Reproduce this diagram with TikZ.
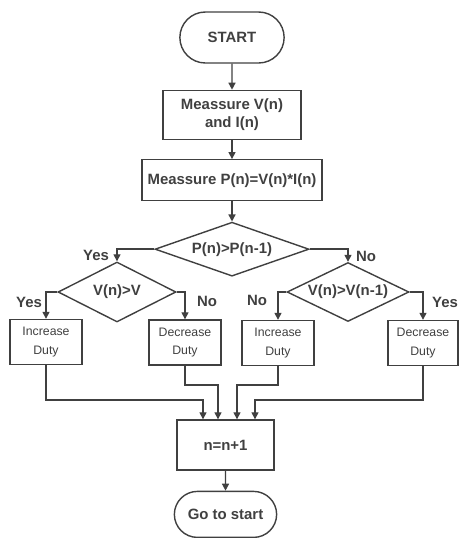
\documentclass[tikz,border=0pt]{standalone}
\usepackage{fontspec}
\setmainfont{Liberation Sans}
\usetikzlibrary{arrows.meta,positioning,shapes.geometric,shapes.misc}
\newcommand{\labf}{\fontsize{8.5}{10.5}\selectfont\bfseries}
\newcommand{\dutyf}{\fontsize{7}{10.5}\selectfont}
\tikzset{
  term/.style={draw,rounded rectangle,minimum width=2.32cm,minimum height=1.02cm,font=\labf},
  box/.style={draw,align=center,inner sep=2pt,font=\labf},
  duty/.style={draw,align=center,minimum width=1.44cm,minimum height=0.9cm,inner sep=1pt,font=\dutyf},
  dec/.style={draw,diamond,inner sep=0pt,font=\labf},
  lbl/.style={font=\labf,inner sep=1pt},
  arr/.style={-{Triangle[length=4pt,width=4pt]}}
}

\begin{document}
\begin{tikzpicture}[x=0.02cm,y=-0.02cm,line width=0.8pt,color=black!75]
\useasboundingbox (0,0) rectangle (459,538);
% main column
\node[term] (start) at (232,37.5) {START};
\node[box,minimum width=2.76cm,minimum height=0.98cm,below=0.52cm of start] (meas) {Meassure V(n)\\and I(n)};
\node[box,minimum width=3.6cm,minimum height=0.82cm,below=0.38cm of meas] (pow) {Meassure P(n)=V(n)*I(n)};
\node[dec,aspect=2.8,minimum width=3.08cm,minimum height=1.08cm,below=0.4cm of pow] (cmp) {P(n)>P(n-1)};
% branches
\node[dec,aspect=2,minimum width=2.36cm,minimum height=1.2cm] (vl) at (117,292) {V(n)>V};
\node[dec,aspect=2,minimum width=2.44cm,minimum height=1.18cm] (vr) at (348,292) {V(n)>V(n-1)};
\node[duty] (inc1) at (46,342) {Increase\\Duty};
\node[duty] (dec1) at (185,342.5) {Decrease\\Duty};
\node[duty] (inc2) at (278,343) {Increase\\Duty};
\node[duty,minimum width=1.4cm] (dec2) at (423,343) {Decrease\\Duty};
\node[box,minimum width=1.94cm,minimum height=1cm] (incn) at (225.5,445) {n=n+1};
\node[term,minimum width=2.28cm,minimum height=0.92cm,below=0.4cm of incn] (goto) {Go to start};
% labels
\node[lbl] at (96,255) {Yes};
\node[lbl] at (366,256) {No};
\node[lbl] at (29,302) {Yes};
\node[lbl] at (207,301) {No};
\node[lbl] at (257,300) {No};
\node[lbl] at (445,302) {Yes};
% merge points
\coordinate (m1) at (203,400);
\coordinate (m2) at (218,385);
\coordinate (m3) at (237,385);
\coordinate (m4) at (255,400);
\draw[arr] (start)--(meas); \draw[arr] (meas)--(pow); \draw[arr] (pow)--(cmp);
\draw[arr] (cmp.west) -| (vl.north); \draw[arr] (cmp.east) -| (vr.north);
\draw[arr] (vl.west) -| (inc1.north); \draw[arr] (vl.east) -| (dec1.north);
\draw[arr] (vr.west) -| (inc2.north); \draw[arr] (vr.east) -| (dec2.north);
\draw[arr] (inc1.south) |- (m1) -- (m1 |- incn.north);
\draw[arr] (dec1.south) |- (m2) -- (m2 |- incn.north);
\draw[arr] (inc2.south) |- (m3) -- (m3 |- incn.north);
\draw[arr] (dec2.south) |- (m4) -- (m4 |- incn.north);
\draw[arr] (incn)--(goto);
\end{tikzpicture}
\end{document}
